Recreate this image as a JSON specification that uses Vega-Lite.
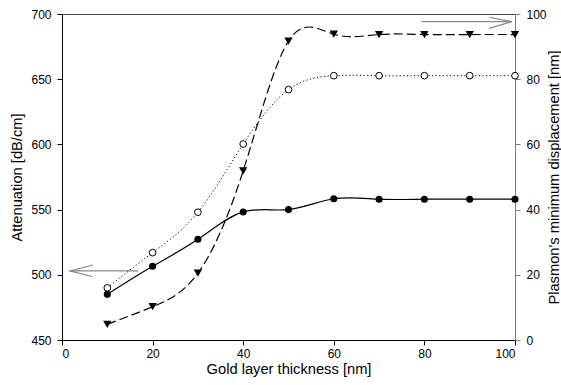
{
  "$schema": "https://vega.github.io/schema/vega-lite/v6.json",
  "width": 453,
  "height": 326,
  "autosize": {"type": "none"},
  "padding": {"left": 62, "top": 14, "right": 46, "bottom": 45},
  "config": {
    "font": "Liberation Sans",
    "view": {"stroke": "#444444", "strokeWidth": 1},
    "axis": {
      "grid": false,
      "labelFont": "Liberation Sans",
      "titleFont": "Liberation Sans",
      "labelFontSize": 12,
      "titleFontSize": 14.7,
      "titleFontWeight": "normal",
      "labelColor": "#000000",
      "titleColor": "#000000",
      "tickSize": 5,
      "domainWidth": 1,
      "tickWidth": 1
    }
  },
  "datasets": {
    "filled": [
      {"x": 10, "y": 485}, {"x": 20, "y": 506.5}, {"x": 30, "y": 527.2}, {"x": 40, "y": 548.2},
      {"x": 50, "y": 550}, {"x": 60, "y": 558.3}, {"x": 70, "y": 558}, {"x": 80, "y": 558},
      {"x": 90, "y": 558}, {"x": 100, "y": 558}
    ],
    "open": [
      {"x": 10, "y": 490}, {"x": 20, "y": 517}, {"x": 30, "y": 548}, {"x": 40, "y": 600.3},
      {"x": 50, "y": 642}, {"x": 60, "y": 652.7}, {"x": 70, "y": 652.7}, {"x": 80, "y": 652.7},
      {"x": 90, "y": 652.7}, {"x": 100, "y": 652.7}
    ],
    "tri": [
      {"x": 10, "y": 4.8}, {"x": 20, "y": 10.2}, {"x": 30, "y": 20.5}, {"x": 40, "y": 51.9},
      {"x": 50, "y": 91.7}, {"x": 60, "y": 93.8}, {"x": 70, "y": 93.7}, {"x": 80, "y": 93.7},
      {"x": 90, "y": 93.7}, {"x": 100, "y": 93.7}
    ],
    "arrows": [
      {"seg": "l1", "o": 0, "x": 1.8, "y": 503}, {"seg": "l1", "o": 1, "x": 16.8, "y": 503},
      {"seg": "l2", "o": 0, "x": 6.8, "y": 507.5}, {"seg": "l2", "o": 1, "x": 1.8, "y": 503}, {"seg": "l2", "o": 2, "x": 6.8, "y": 498.5},
      {"seg": "r1", "o": 0, "x": 79.4, "y": 694.1}, {"seg": "r1", "o": 1, "x": 99.3, "y": 694.1},
      {"seg": "r2", "o": 0, "x": 94.3, "y": 697.5}, {"seg": "r2", "o": 1, "x": 99.3, "y": 694.1}, {"seg": "r2", "o": 2, "x": 94.3, "y": 689}
    ]
  },
  "layer": [
    {
      "encoding": {
        "x": {
          "field": "x", "type": "quantitative",
          "scale": {"domain": [0, 100], "nice": false, "zero": false},
          "axis": {"values": [0, 20, 40, 60, 80, 100], "title": "Gold layer thickness [nm]", "domainColor": "#000000", "tickColor": "#000000", "labelPadding": 3, "titlePadding": 2}
        },
        "y": {
          "field": "y", "type": "quantitative",
          "scale": {"domain": [450, 700], "nice": false, "zero": false},
          "axis": {"orient": "left", "values": [450, 500, 550, 600, 650, 700], "title": "Attenuation [dB/cm]", "domainColor": "#000000", "tickColor": "#000000", "labelPadding": 6, "titlePadding": 6}
        }
      },
      "layer": [
        {"data": {"name": "arrows"}, "mark": {"type": "line", "color": "#888888", "strokeWidth": 1.2},
         "encoding": {"detail": {"field": "seg"}, "order": {"field": "o", "type": "quantitative"}}},
        {"data": {"name": "open"}, "mark": {"type": "line", "interpolate": "natural", "color": "#000000", "strokeWidth": 1, "strokeDash": [1.2, 2.4]}},
        {"data": {"name": "open"}, "mark": {"type": "point", "shape": "circle", "filled": true, "fill": "#ffffff", "stroke": "#000000", "strokeWidth": 1, "size": 45, "opacity": 1}},
        {"data": {"name": "filled"}, "mark": {"type": "line", "interpolate": "natural", "color": "#000000", "strokeWidth": 1.2}},
        {"data": {"name": "filled"}, "mark": {"type": "point", "shape": "circle", "filled": true, "color": "#000000", "size": 50, "opacity": 1}}
      ]
    },
    {
      "data": {"name": "tri"},
      "encoding": {
        "x": {
          "field": "x", "type": "quantitative",
          "scale": {"domain": [0, 100], "nice": false, "zero": false},
          "axis": {"values": [0, 20, 40, 60, 80, 100], "title": "Gold layer thickness [nm]", "domainColor": "#000000", "tickColor": "#000000", "labelPadding": 3, "titlePadding": 2}
        },
        "y": {
          "field": "y", "type": "quantitative",
          "scale": {"domain": [0, 100], "nice": false, "zero": false},
          "axis": {"orient": "right", "values": [0, 20, 40, 60, 80, 100], "title": "Plasmon's minimum displacement [nm]", "domainColor": "#808080", "tickColor": "#808080", "labelPadding": 6, "titlePadding": 0, "titleAngle": 270, "titleBaseline": "top"}
        }
      },
      "layer": [
        {"mark": {"type": "line", "interpolate": "natural", "color": "#000000", "strokeWidth": 1.2, "strokeDash": [9, 4]}},
        {"mark": {"type": "point", "shape": "triangle-down", "filled": true, "color": "#000000", "size": 70, "opacity": 1}}
      ]
    }
  ],
  "resolve": {"scale": {"y": "independent"}}
}
